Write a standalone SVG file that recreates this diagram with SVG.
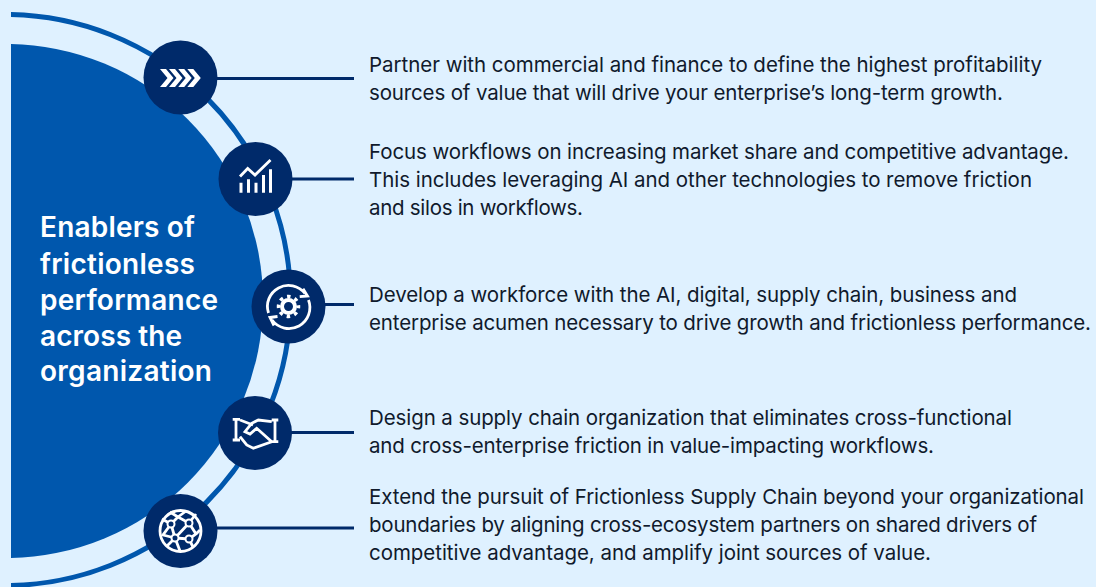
<svg xmlns="http://www.w3.org/2000/svg" width="1096" height="587" viewBox="0 0 1096 587">
<style>
.t{font-family:"Inter","Liberation Sans",sans-serif;font-size:20.5px;fill:#101a2c;font-weight:400}
.h{font-family:"Inter","Liberation Sans",sans-serif;font-size:28px;fill:#fff;font-weight:600}
.c{fill:#002a6a}
.l{stroke:#002a6a;stroke-width:3;fill:none}
.i{fill:none;stroke:#fff;stroke-width:2.800}
.f{fill:#fff}
</style>
<defs><clipPath id="clip"><rect x="11" y="0" width="1085" height="587"/></clipPath></defs>
<rect width="1096" height="587" fill="#dff1ff"/>
<g clip-path="url(#clip)">
<circle cx="6" cy="301" r="257" fill="#0057ad"/>
<circle cx="5" cy="300" r="285.500" fill="none" stroke="#0057ad" stroke-width="5"/>
</g>
<g id="connectors">
<path class="l" d="M215 78.500H354"/>
<path class="l" d="M290 179H354"/>
<path class="l" d="M323 304.500H354"/>
<path class="l" d="M290 432.500H354"/>
<path class="l" d="M215 528H354"/>
</g>
<g id="title">
<text class="h" x="40" y="237" textLength="155">Enablers of</text>
<text class="h" x="40" y="274" textLength="155">frictionless</text>
<text class="h" x="40" y="310" textLength="178">performance</text>
<text class="h" x="40" y="346" textLength="142">across the</text>
<text class="h" x="40" y="381" textLength="172">organization</text>
</g>
<g id="node1">
<circle class="c" cx="180.500" cy="77.500" r="37"/>
<path class="f" d="M160 69h6l7.500 9l-7.500 9h-6l7.500-9zM169 69h6l7.500 9l-7.500 9h-6l7.500-9zM178.200 69h6l7.500 9l-7.500 9h-6l7.500-9zM187.300 69h6l7.500 9l-7.500 9h-6l7.500-9z"/>
<text class="t" x="369" y="72" textLength="673">Partner with commercial and finance to define the highest profitability</text>
<text class="t" x="369" y="100" textLength="634">sources of value that will drive your enterprise’s long-term growth.</text>
</g>
<g id="node2">
<circle class="c" cx="255.500" cy="179" r="37"/>
<path class="i" stroke-width="3" d="M240 176.500L247.700 168.500L255 175L270.500 160"/>
<path class="f" d="M239.500 182.700h3v10h-3zM247 179.300h3v13.400h-3zM254.500 182.700h3v10h-3zM262 175h3v17.700h-3zM269 169.300h3v23.400h-3z"/>
<text class="t" x="369" y="159" textLength="700">Focus workflows on increasing market share and competitive advantage.</text>
<text class="t" x="369" y="187" textLength="663">This includes leveraging AI and other technologies to remove friction</text>
<text class="t" x="369" y="215" textLength="214">and silos in workflows.</text>
</g>
<g id="node3">
<circle class="c" cx="288.500" cy="306.500" r="37"/>
<path class="i" d="M268.500 313A21 21 0 0 1 305 293.500M308.500 300A21 21 0 0 1 272 320"/>
<path class="i" stroke-width="3" d="M303 288.700L307.500 296L299.700 296.700M274 325.500L270 317.500L277.500 316.500"/>
<circle cx="288.500" cy="306.500" r="6.500" fill="none" stroke="#fff" stroke-width="4"/>
<circle cx="288.500" cy="306.500" r="10" fill="none" stroke="#fff" stroke-width="3.500" stroke-dasharray="3.500 4.350" stroke-dashoffset="1.750"/>
<text class="t" x="369" y="302" textLength="648">Develop a workforce with the AI, digital, supply chain, business and</text>
<text class="t" x="369" y="330" textLength="722">enterprise acumen necessary to drive growth and frictionless performance.</text>
</g>
<g id="node4">
<circle class="c" cx="255" cy="433" r="37"/>
<path class="i" d="M232.700 419.300H240M236 419.300V440M232.700 440H240M271.700 420H278.300M275 420V441.700M271.700 441.700H278.300M240 420L253 425M271.700 421.700L258.300 420L251.700 423.300L245 431.700L250 434L256.700 428.300L271.700 441.700L253.300 448.300L246.700 445L240 436.700"/>
<text class="t" x="369" y="425" textLength="643">Design a supply chain organization that eliminates cross-functional</text>
<text class="t" x="369" y="453" textLength="565">and cross-enterprise friction in value-impacting workflows.</text>
</g>
<g id="node5">
<circle class="c" cx="180.500" cy="531" r="37"/>
<circle class="i" cx="180.500" cy="531" r="20.500" stroke-width="3"/>
<path class="i" stroke-width="2" d="M171 524L178 517L189 523L175 538L189 539M171 524L175 538M189 523L196 534L189 539M171 524L162 519M189 523L196 514M171 524L163 535L175 538M175 538L167 546M175 538L180 551M189 539L193 547M196 534L200 530M178 517L170 512M178 517L186 511"/>
<g fill="#002a6a" stroke="#fff" stroke-width="2"><circle cx="171" cy="524" r="3.500"/><circle cx="189" cy="523" r="3.500"/><circle cx="175" cy="538" r="3.500"/><circle cx="189" cy="539" r="3.500"/></g>
<text class="t" x="369" y="504" textLength="715">Extend the pursuit of Frictionless Supply Chain beyond your organizational</text>
<text class="t" x="369" y="532" textLength="668">boundaries by aligning cross-ecosystem partners on shared drivers of</text>
<text class="t" x="369" y="560" textLength="562">competitive advantage, and amplify joint sources of value.</text>
</g>
</svg>
